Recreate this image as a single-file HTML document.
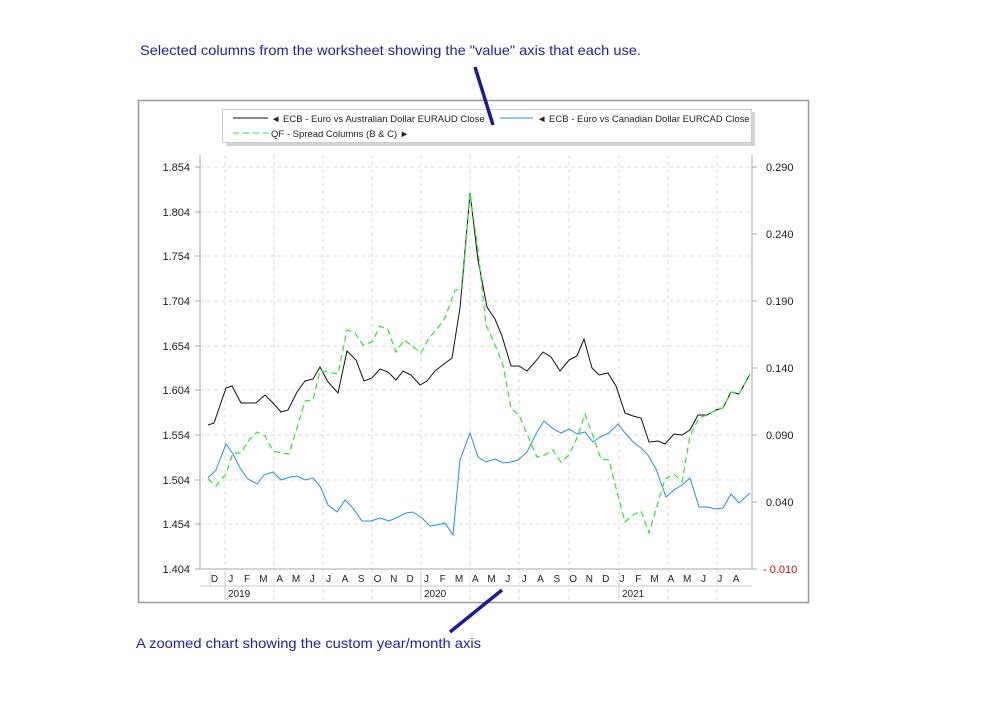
<!DOCTYPE html>
<html><head><meta charset="utf-8"><style>
body{margin:0;background:#fff;}
svg text{font-family:"Liberation Sans",sans-serif;}
</style></head><body>
<svg width="998" height="719" viewBox="0 0 998 719" xmlns="http://www.w3.org/2000/svg">
<rect width="998" height="719" fill="#fff"/>
<text x="140" y="55" font-size="14" fill="#2020b0" textLength="501" lengthAdjust="spacingAndGlyphs">Selected columns from the worksheet showing the "value" axis that each use.</text>
<text x="136" y="648" font-size="14" fill="#2020b0" textLength="345" lengthAdjust="spacingAndGlyphs">A zoomed chart showing the custom year/month axis</text>
<rect x="138.5" y="100.5" width="670" height="502" fill="#fff" stroke="#999" stroke-width="1.5"/>
<g stroke="#ddd" stroke-dasharray="4,3" stroke-width="1">
<line x1="200" x2="752" y1="167" y2="167"/><line x1="200" x2="752" y1="212" y2="212"/><line x1="200" x2="752" y1="256" y2="256"/><line x1="200" x2="752" y1="301" y2="301"/><line x1="200" x2="752" y1="346" y2="346"/><line x1="200" x2="752" y1="390" y2="390"/><line x1="200" x2="752" y1="435" y2="435"/><line x1="200" x2="752" y1="480" y2="480"/><line x1="200" x2="752" y1="524" y2="524"/>
<line x1="225" x2="225" y1="155" y2="600"/><line x1="274" x2="274" y1="155" y2="600"/><line x1="323" x2="323" y1="155" y2="600"/><line x1="372" x2="372" y1="155" y2="600"/><line x1="421" x2="421" y1="155" y2="600"/><line x1="470" x2="470" y1="155" y2="600"/><line x1="519" x2="519" y1="155" y2="600"/><line x1="569" x2="569" y1="155" y2="600"/><line x1="619" x2="619" y1="155" y2="600"/><line x1="668" x2="668" y1="155" y2="600"/><line x1="717" x2="717" y1="155" y2="600"/>
</g>
<g stroke="#aaa" stroke-width="1">
<line x1="200" x2="200" y1="155" y2="569"/><line x1="752" x2="752" y1="155" y2="569"/>
<line x1="200" x2="752" y1="569" y2="569"/>
<line x1="195" x2="200" y1="167" y2="167"/><line x1="195" x2="200" y1="212" y2="212"/><line x1="195" x2="200" y1="256" y2="256"/><line x1="195" x2="200" y1="301" y2="301"/><line x1="195" x2="200" y1="346" y2="346"/><line x1="195" x2="200" y1="390" y2="390"/><line x1="195" x2="200" y1="435" y2="435"/><line x1="195" x2="200" y1="480" y2="480"/><line x1="195" x2="200" y1="524" y2="524"/><line x1="195" x2="200" y1="569" y2="569"/>
<line x1="752" x2="757" y1="167" y2="167"/><line x1="752" x2="757" y1="234" y2="234"/><line x1="752" x2="757" y1="301" y2="301"/><line x1="752" x2="757" y1="368" y2="368"/><line x1="752" x2="757" y1="435" y2="435"/><line x1="752" x2="757" y1="502" y2="502"/><line x1="752" x2="757" y1="569" y2="569"/>
</g>
<g font-size="11" fill="#222" text-anchor="end">
<text x="190" y="171">1.854</text><text x="190" y="216">1.804</text><text x="190" y="260">1.754</text><text x="190" y="305">1.704</text><text x="190" y="350">1.654</text><text x="190" y="394">1.604</text><text x="190" y="439">1.554</text><text x="190" y="484">1.504</text><text x="190" y="528">1.454</text><text x="190" y="573">1.404</text>
</g>
<g font-size="11" fill="#222">
<text x="766" y="171">0.290</text><text x="766" y="238">0.240</text><text x="766" y="305">0.190</text><text x="766" y="372">0.140</text><text x="766" y="439">0.090</text><text x="766" y="506">0.040</text><text x="763" y="573" fill="#e00000">- 0.010</text>
</g>
<g stroke="#ccc" stroke-width="1">
<line x1="200" x2="752" y1="586" y2="586"/>
<line x1="210" x2="210" y1="572" y2="586"/>
<line x1="225" x2="225" y1="572" y2="600"/><line x1="421" x2="421" y1="572" y2="600"/><line x1="619" x2="619" y1="572" y2="600"/>
</g>
<g font-size="10" fill="#222">
<text x="228" y="597">2019</text><text x="424" y="597">2020</text><text x="622" y="597">2021</text>
</g>
<g font-size="10" fill="#222" text-anchor="middle">
<text x="214.5" y="582">D</text><text x="230.8" y="582">J</text><text x="247.1" y="582">F</text><text x="263.4" y="582">M</text><text x="279.7" y="582">A</text><text x="296" y="582">M</text><text x="312.3" y="582">J</text><text x="328.6" y="582">J</text><text x="344.9" y="582">A</text><text x="361.2" y="582">S</text><text x="377.5" y="582">O</text><text x="393.8" y="582">N</text><text x="410.1" y="582">D</text><text x="426.4" y="582">J</text><text x="442.7" y="582">F</text><text x="459" y="582">M</text><text x="475.3" y="582">A</text><text x="491.6" y="582">M</text><text x="507.9" y="582">J</text><text x="524.2" y="582">J</text><text x="540.5" y="582">A</text><text x="556.8" y="582">S</text><text x="573.1" y="582">O</text><text x="589.4" y="582">N</text><text x="605.7" y="582">D</text><text x="622" y="582">J</text><text x="638.3" y="582">F</text><text x="654.6" y="582">M</text><text x="670.9" y="582">A</text><text x="687.2" y="582">M</text><text x="703.5" y="582">J</text><text x="719.8" y="582">J</text><text x="736.1" y="582">A</text>
</g>
<polyline fill="none" stroke="#1e90ff" stroke-width="1" points="208,478 216,470 226,444 233,454 240,468 248,479 257,484 264,475 273,472 281,480 290,477 297,476 305,480 313,478 320,486 328,505 337,512 345,500 352,507 362,521 371,521 380,518 389,521 398,517 406,513 413,512 422,518 430,526 437,525 445,523 453,535 460,460 470,433 478,457 486,462 495,459 503,463 511,462 518,460 527,452 537,432 544,421 552,428 561,433 569,429 577,434 585,432 593,442 600,437 609,433 618,424 626,434 633,442 641,448 648,455 656,469 666,497 674,490 682,485 690,478 699,507 707,507 716,509 723,508 731,494 739,503 750,493"/>
<polyline fill="none" stroke="#111" stroke-width="1" points="208,425 214,423 226,388 232,386 241,403 256,403 265,395 273,403 281,412 288,410 297,392 305,381 313,379 320,367 328,382 338,393 347,351 356,360 364,381 372,378 380,369 388,372 396,380 403,371 411,375 420,385 427,381 435,371 444,364 452,358 460,308 470,193 478,260 487,307 495,319 502,336 511,366 519,366 527,371 535,362 543,352 551,357 560,371 569,360 577,356 584,339 592,368 599,375 608,373 616,386 625,413 633,416 641,418 649,442 658,441 665,444 674,434 682,435 690,430 698,415 707,415 716,410 723,408 731,392 739,394 750,374"/>
<polyline fill="none" stroke="#22ee22" stroke-width="1.2" stroke-dasharray="6,4" points="208,479 216,486 226,474 233,453 241,453 249,440 257,432 265,436 273,451 281,453 289,454 297,428 305,401 313,400 320,371 328,372 338,374 347,330 355,333 363,345 372,342 380,326 388,330 396,352 404,340 412,346 421,353 429,338 437,329 445,318 455,290 462,290 470,193 478,250 486,325 495,345 503,365 511,408 519,415 527,434 537,457 545,455 553,450 561,462 569,455 577,438 585,414 593,436 601,459 609,460 617,492 625,522 633,515 641,511 649,533 657,506 665,479 674,474 682,482 690,436 699,418 707,415 716,410 723,408 731,392 739,394 750,374"/>
<rect x="226" y="112" width="529" height="34" fill="#aaa" opacity="0.5"/>
<rect x="222.5" y="109.5" width="529" height="33" fill="#fff" stroke="#ccc"/>
<line x1="233" x2="268" y1="118" y2="118" stroke="#111"/>
<text x="271" y="122" font-size="9.5" fill="#222">◄ ECB - Euro  vs Australian Dollar EURAUD Close</text>
<line x1="500" x2="533" y1="118" y2="118" stroke="#1e90ff"/>
<text x="537" y="122" font-size="9.5" fill="#222">◄ ECB - Euro  vs Canadian Dollar EURCAD Close</text>
<line x1="233" x2="268" y1="133" y2="133" stroke="#22ee22" stroke-dasharray="6,4"/>
<text x="271" y="137" font-size="9.5" fill="#222">QF - Spread  Columns  (B &amp; C) ►</text>
<line x1="475" y1="67" x2="493" y2="125" stroke="#1a1aa0" stroke-width="3.5"/>
<line x1="502" y1="590" x2="450" y2="632" stroke="#1a1aa0" stroke-width="3.5"/>
</svg>
</body></html>
